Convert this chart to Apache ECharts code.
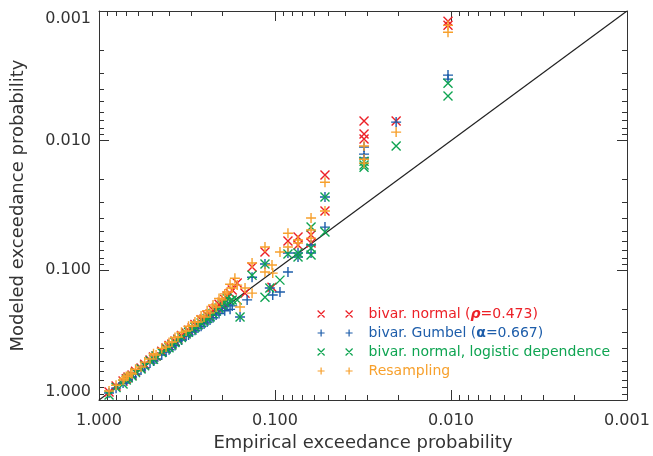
<!DOCTYPE html>
<html><head><meta charset="utf-8">
<script src="https://cdn.jsdelivr.net/npm/echarts@6/dist/echarts.min.js"></script>
<style>html,body{margin:0;padding:0;background:#fff}#c{width:653px;height:456px}</style>
</head><body><div id="c"></div>
<script>
// ---- data ----
const majorTicks = [0.001, 0.01, 0.1, 1];
const minorTicks = [0.002,0.003,0.004,0.005,0.006,0.007,0.008,0.009,
                    0.02,0.03,0.04,0.05,0.06,0.07,0.08,0.09,
                    0.2,0.3,0.4,0.5,0.6,0.7,0.8,0.9];
const seriesNames = ['bivar. normal (ρ=0.473)','bivar. Gumbel (α=0.667)','bivar. normal, logistic dependence','Resampling'];
const diagonal = [[1,1],[0.001,0.001]];
// [empirical, modeled] exceedance probabilities
const normalPts = [[0.877,0.868],[0.80,0.78],[0.730,0.714],[0.70,0.685],[0.684,0.665],[0.649,0.641],[0.62,0.60],[0.577,0.566],[0.55,0.53],[0.513,0.492],[0.49,0.465],[0.474,0.458],[0.44,0.42],[0.416,0.397],[0.40,0.38],[0.385,0.370],[0.37,0.35],[0.356,0.339],[0.34,0.318],[0.320,0.304],[0.31,0.29],[0.296,0.279],[0.285,0.262],[0.274,0.259],[0.263,0.24],[0.253,0.237],[0.243,0.222],[0.234,0.217],[0.225,0.202],[0.216,0.195],[0.208,0.183],[0.200,0.176],[0.193,0.168],[0.187,0.158],[0.18,0.15],[0.175,0.142],[0.164,0.125],[0.148,0.150],[0.135,0.0943],[0.114,0.0723],[0.104,0.135],[0.0844,0.0594],[0.0740,0.0554],[0.0740,0.0638],[0.0624,0.0534],[0.0624,0.0616],[0.0520,0.0184],[0.0520,0.0349],[0.0312,0.00706],[0.0312,0.00890],[0.0312,0.00972],[0.0205,0.00706],[0.0104,0.00120],[0.0104,0.00129]];
const gumbelPts = [[0.877,0.883],[0.80,0.81],[0.730,0.740],[0.70,0.71],[0.684,0.689],[0.649,0.665],[0.62,0.63],[0.577,0.587],[0.55,0.565],[0.513,0.518],[0.49,0.50],[0.474,0.483],[0.44,0.45],[0.416,0.426],[0.40,0.41],[0.385,0.390],[0.37,0.38],[0.356,0.351],[0.34,0.345],[0.320,0.321],[0.31,0.315],[0.296,0.299],[0.285,0.29],[0.274,0.279],[0.263,0.27],[0.253,0.259],[0.243,0.25],[0.234,0.242],[0.225,0.232],[0.216,0.221],[0.208,0.215],[0.200,0.195],[0.193,0.205],[0.187,0.185],[0.18,0.20],[0.175,0.188],[0.158,0.229],[0.144,0.169],[0.135,0.113],[0.114,0.0894],[0.107,0.137],[0.103,0.155],[0.0937,0.147],[0.0844,0.0735],[0.0844,0.103],[0.0740,0.0735],[0.0740,0.0790],[0.0624,0.0638],[0.0624,0.0735],[0.0520,0.0272],[0.0520,0.0464],[0.0312,0.0112],[0.0312,0.0127],[0.0312,0.0136],[0.0205,0.00719],[0.0104,0.00312],[0.0104,0.00335]];
const logisticPts = [[0.877,0.915],[0.80,0.80],[0.730,0.753],[0.70,0.70],[0.684,0.677],[0.649,0.653],[0.62,0.615],[0.577,0.577],[0.55,0.545],[0.513,0.500],[0.49,0.485],[0.474,0.458],[0.44,0.43],[0.416,0.404],[0.40,0.395],[0.385,0.377],[0.37,0.36],[0.356,0.345],[0.34,0.33],[0.320,0.310],[0.31,0.30],[0.296,0.289],[0.285,0.275],[0.274,0.264],[0.263,0.255],[0.253,0.246],[0.243,0.235],[0.234,0.229],[0.225,0.215],[0.216,0.206],[0.208,0.195],[0.200,0.185],[0.193,0.178],[0.187,0.164],[0.18,0.172],[0.175,0.169],[0.164,0.169],[0.158,0.229],[0.135,0.109],[0.114,0.0894],[0.114,0.161],[0.107,0.137],[0.0937,0.119],[0.0844,0.0749],[0.0740,0.0735],[0.0740,0.0790],[0.0624,0.0464],[0.0624,0.0673],[0.0624,0.0762],[0.0520,0.0272],[0.0520,0.0507],[0.0312,0.0144],[0.0312,0.0154],[0.0312,0.0160],[0.0205,0.0110],[0.0104,0.00360],[0.0104,0.00453]];
const resamplePts = [[0.877,0.853],[0.80,0.77],[0.730,0.701],[0.72,0.68],[0.70,0.66],[0.684,0.653],[0.66,0.62],[0.649,0.630],[0.62,0.58],[0.577,0.557],[0.55,0.51],[0.513,0.483],[0.49,0.44],[0.474,0.450],[0.44,0.40],[0.416,0.390],[0.40,0.36],[0.385,0.357],[0.37,0.33],[0.356,0.327],[0.34,0.30],[0.320,0.294],[0.31,0.27],[0.296,0.269],[0.285,0.25],[0.274,0.250],[0.263,0.225],[0.253,0.229],[0.243,0.205],[0.234,0.213],[0.225,0.185],[0.216,0.192],[0.208,0.165],[0.200,0.169],[0.193,0.152],[0.187,0.147],[0.18,0.128],[0.175,0.137],[0.169,0.115],[0.164,0.130],[0.158,0.192],[0.148,0.137],[0.135,0.0878],[0.135,0.150],[0.114,0.0661],[0.114,0.103],[0.104,0.0910],[0.103,0.105],[0.0937,0.0723],[0.0844,0.0518],[0.0844,0.0661],[0.0740,0.0584],[0.0740,0.0616],[0.0624,0.0395],[0.0624,0.0489],[0.0624,0.0564],[0.0520,0.0209],[0.0520,0.0349],[0.0312,0.0110],[0.0312,0.0139],[0.0312,0.0149],[0.0205,0.00859],[0.0104,0.00129],[0.0104,0.00146]];

// ---- styles ----
const colors = ['#ec2027', '#1d5daa', '#0ea451', '#f7a02c'];
const X_SYM = 'path://M0,0L10,10M10,0L0,10';
const P_SYM = 'path://M5,0L5,10M0,5L10,5';
const X_ICON = 'path://M0,0L7,7M7,0L0,7M28,0L35,7M35,0L28,7';
const P_ICON = 'path://M3.5,0L3.5,7M0,3.5L7,3.5M31.5,0L31.5,7M28,3.5L35,3.5';
const FONT = 'DejaVu Sans';
const AX = '#333';

function makeAxis(dim, position, major, withLabel, name) {
  const a = {
    type: 'log', logBase: 10, min: 0.001, max: 1, inverse: true,
    position: position,
    axisLine: { show: major, onZero: false, lineStyle: { color: AX, width: 1 } },
    axisTick: { show: true, inside: true, length: major ? 10 : 5,
                customValues: major ? majorTicks : minorTicks,
                lineStyle: { color: AX, width: 1 } },
    axisLabel: { show: withLabel },
    splitLine: { show: false },
    minorTick: { show: false },
    minorSplitLine: { show: false }
  };
  if (withLabel) {
    a.axisLabel = {
      show: true, customValues: majorTicks,
      formatter: v => Number(v).toFixed(3),
      fontFamily: FONT, fontSize: 16, color: AX,
      margin: dim === 'x' ? 13 : 8
    };
    if (dim === 'y') {
      a.axisLabel.verticalAlignMinLabel = 'top';
      a.axisLabel.verticalAlignMaxLabel = 'bottom';
    }
    a.name = name;
    a.nameLocation = 'middle';
    a.nameGap = dim === 'x' ? 32 : 72;
    a.nameTextStyle = { fontFamily: FONT, fontSize: 18, color: AX };
  }
  return a;
}

const richStyle = {
  r: { fontFamily: FONT, fontSize: 14, fontWeight: 'bold', fontStyle: 'italic', color: colors[0] },
  b: { fontFamily: FONT, fontSize: 14, fontWeight: 'bold', color: colors[1] }
};
const legendLabels = {};
legendLabels[seriesNames[0]] = 'bivar. normal ({r|ρ}=0.473)';
legendLabels[seriesNames[1]] = 'bivar. Gumbel ({b|α}=0.667)';
legendLabels[seriesNames[2]] = seriesNames[2];
legendLabels[seriesNames[3]] = seriesNames[3];

const pointSets = [normalPts, gumbelPts, logisticPts, resamplePts];
const syms = [X_SYM, P_SYM, X_SYM, P_SYM];
const icons = [X_ICON, P_ICON, X_ICON, P_ICON];

const series = [{
  type: 'line', data: diagonal, symbol: 'none', silent: true, z: 1,
  lineStyle: { color: '#222', width: 1.2 }, animation: false
}];
pointSets.forEach((pts, i) => {
  series.push({
    name: seriesNames[i], type: 'scatter', data: pts,
    symbol: syms[i], symbolSize: i % 2 ? 10 : 9, z: 2 + i,
    itemStyle: { color: colors[i], borderColor: colors[i], borderWidth: 1.4, opacity: 1 },
    emphasis: { disabled: true }, animation: false
  });
});

const chart = echarts.init(document.getElementById('c'), null, { renderer: 'canvas' });
chart.setOption({
  backgroundColor: '#fff',
  animation: false,
  grid: { left: 99, right: 26, top: 11, bottom: 56, containLabel: false, outerBoundsMode: 'none' },
  xAxis: [
    makeAxis('x', 'bottom', true, true, 'Empirical exceedance probability'),
    makeAxis('x', 'top', true, false),
    makeAxis('x', 'bottom', false, false),
    makeAxis('x', 'top', false, false)
  ],
  yAxis: [
    makeAxis('y', 'left', true, true, 'Modeled exceedance probability'),
    makeAxis('y', 'right', true, false),
    makeAxis('y', 'left', false, false),
    makeAxis('y', 'right', false, false)
  ],
  legend: {
    orient: 'vertical', left: 312, top: 302,
    itemWidth: 35, itemHeight: 7, itemGap: 5,
    selectedMode: false,
    formatter: n => legendLabels[n],
    textStyle: { fontFamily: FONT, fontSize: 14, padding: [0, 0, 0, 11], rich: richStyle },
    data: seriesNames.map((n, i) => ({
      name: n, icon: icons[i],
      itemStyle: { color: 'rgba(0,0,0,0)', borderColor: colors[i], borderWidth: 1.2 },
      textStyle: { color: colors[i] }
    }))
  },
  series: series
});
</script></body></html>
